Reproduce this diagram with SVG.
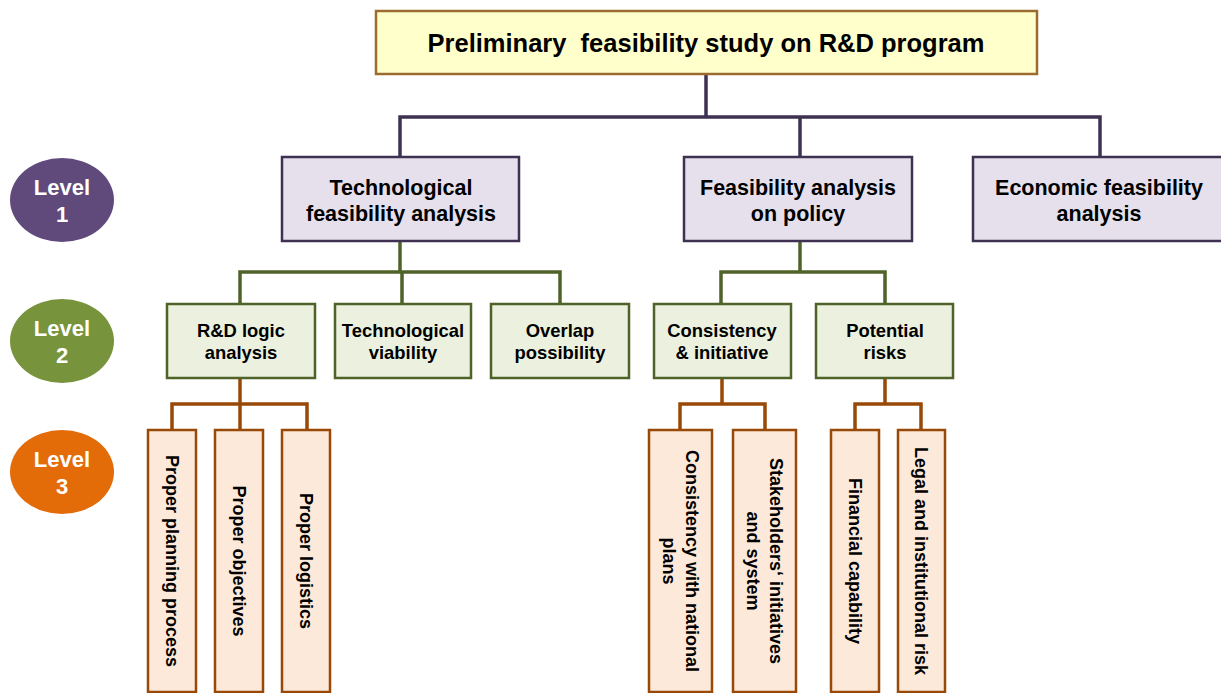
<svg xmlns="http://www.w3.org/2000/svg" width="1221" height="693" viewBox="0 0 1221 693">
<style>
text{font-family:"Liberation Sans",Arial,sans-serif;font-weight:bold;fill:#000;text-anchor:middle}
.top{fill:#FFFFCC;stroke:#9C6B30;stroke-width:2.5}
.l1{fill:#E5E0EC;stroke:#3F3151;stroke-width:2.5}
.l2{fill:#EBF1DE;stroke:#4F6228;stroke-width:2.5}
.l3{fill:#FDE9D9;stroke:#984807;stroke-width:2.5}
.c1{fill:none;stroke:#3F3151;stroke-width:3.5}
.c2{fill:none;stroke:#4F6228;stroke-width:3.5}
.c3{fill:none;stroke:#984807;stroke-width:3.5}
.t0{font-size:25.5px}
.t1{font-size:21.5px}
.t2{font-size:18.4px}
.t3{font-size:18px}
.lv{font-size:22px;fill:#fff}
</style>
<g id="connectors">
<path class="c1" d="M706 74V117M400 157V117H1100V157M800 117V157"/>
<path class="c2" d="M400 241V272M240 304V272H560V304M402 272V304"/>
<path class="c2" d="M800 241V272M721 304V272H885V304"/>
<path class="c3" d="M240 378V404M172 430V404H307V430M240 404V430"/>
<path class="c3" d="M722 378V404M680 430V404H765V430"/>
<path class="c3" d="M885 378V404M855 430V404H921V430"/>
</g>
<g id="level1-label"><ellipse cx="62" cy="200" rx="52" ry="42" fill="#604A7B"/><text class="lv" x="62" y="195">Level</text><text class="lv" x="62" y="222">1</text></g>
<g id="level2-label"><ellipse cx="62" cy="341" rx="52" ry="42" fill="#77933C"/><text class="lv" x="62" y="336">Level</text><text class="lv" x="62" y="363">2</text></g>
<g id="level3-label"><ellipse cx="62" cy="472" rx="52" ry="42" fill="#E36C09"/><text class="lv" x="62" y="467">Level</text><text class="lv" x="62" y="494">3</text></g>
<g id="root"><rect class="top" x="376" y="11" width="661" height="63"/><text class="t0" x="706" y="52" xml:space="preserve">Preliminary  feasibility study on R&amp;D program</text></g>
<g id="tech"><rect class="l1" x="282" y="157" width="237" height="84"/><text class="t1" x="401" y="194.5">Technological</text><text class="t1" x="401" y="220.5">feasibility analysis</text></g>
<g id="policy"><rect class="l1" x="684" y="157" width="228" height="84"/><text class="t1" x="798" y="194.5">Feasibility analysis</text><text class="t1" x="798" y="220.5">on policy</text></g>
<g id="economic"><rect class="l1" x="973" y="157" width="256" height="84"/><text class="t1" x="1099" y="194.5">Economic feasibility</text><text class="t1" x="1099" y="220.5">analysis</text></g>
<g id="rd-logic"><rect class="l2" x="167" y="304" width="148" height="74"/><text class="t2" x="241" y="336.5">R&amp;D logic</text><text class="t2" x="241" y="358.5">analysis</text></g>
<g id="tech-viability"><rect class="l2" x="335" y="304" width="136" height="74"/><text class="t2" x="403" y="336.5">Technological</text><text class="t2" x="403" y="358.5">viability</text></g>
<g id="overlap"><rect class="l2" x="491" y="304" width="138" height="74"/><text class="t2" x="560" y="336.5">Overlap</text><text class="t2" x="560" y="358.5">possibility</text></g>
<g id="consistency"><rect class="l2" x="654" y="304" width="137" height="74"/><text class="t2" x="722" y="336.5">Consistency</text><text class="t2" x="722" y="358.5">&amp; initiative</text></g>
<g id="risks"><rect class="l2" x="816" y="304" width="137" height="74"/><text class="t2" x="885" y="336.5">Potential</text><text class="t2" x="885" y="358.5">risks</text></g>
<g id="planning"><rect class="l3" x="148" y="430" width="48" height="262"/><text class="t3" transform="translate(172,561) rotate(90)" x="0" y="6">Proper planning process</text></g>
<g id="objectives"><rect class="l3" x="215" y="430" width="48" height="262"/><text class="t3" transform="translate(239,561) rotate(90)" x="0" y="6">Proper objectives</text></g>
<g id="logistics"><rect class="l3" x="282" y="430" width="48" height="262"/><text class="t3" transform="translate(306,561) rotate(90)" x="0" y="6">Proper logistics</text></g>
<g id="national"><rect class="l3" x="649" y="430" width="63" height="262"/><text class="t3" transform="translate(680,561) rotate(90)" x="0" y="-5.5">Consistency with national</text><text class="t3" transform="translate(680,561) rotate(90)" x="0" y="17.5">plans</text></g>
<g id="stakeholders"><rect class="l3" x="733" y="430" width="63" height="262"/><text class="t3" transform="translate(764,561) rotate(90)" x="0" y="-5.5">Stakeholders‘ initiatives</text><text class="t3" transform="translate(764,561) rotate(90)" x="0" y="17.5">and system</text></g>
<g id="financial"><rect class="l3" x="831" y="430" width="48" height="262"/><text class="t3" transform="translate(855,561) rotate(90)" x="0" y="6">Financial capability</text></g>
<g id="legal"><rect class="l3" x="898" y="430" width="47" height="262"/><text class="t3" transform="translate(921,561) rotate(90)" x="0" y="6">Legal and institutional risk</text></g>
</svg>
